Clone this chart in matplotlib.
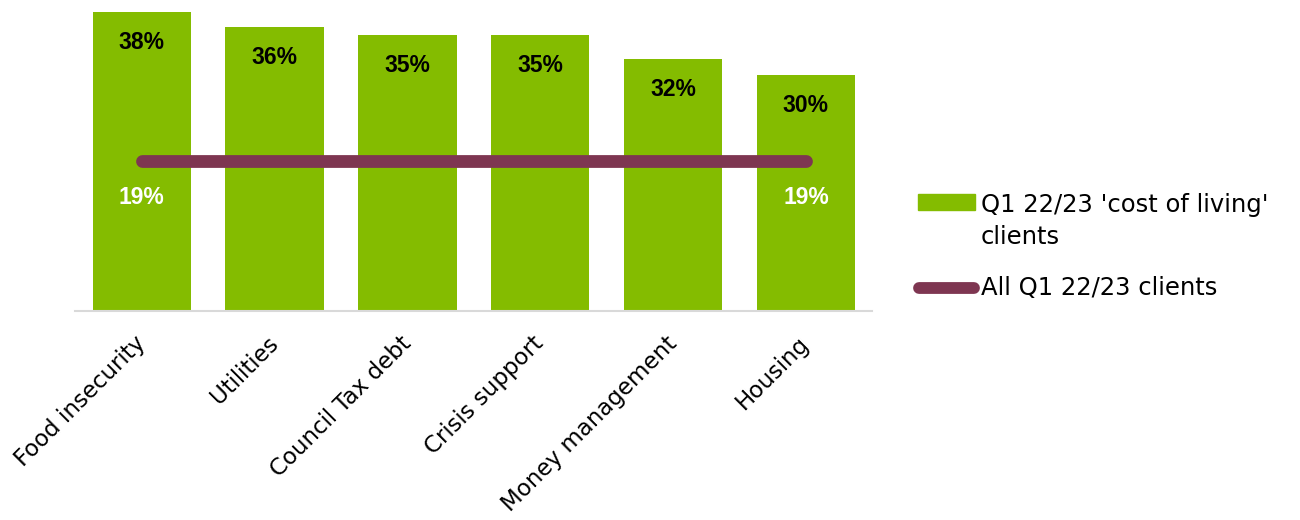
import matplotlib
matplotlib.use("Agg")
from matplotlib import pyplot as plt
from matplotlib import font_manager
from matplotlib.lines import Line2D
from matplotlib.patches import Rectangle

# dados
categorias = ["Food insecurity", "Utilities", "Council Tax debt",
              "Crisis support", "Money management", "Housing"]
custo_vida = [38, 36, 35, 35, 32, 30]
todos_clientes = [19, 19, 19, 19, 19, 19]
rotulo_serie1 = ["Q1 22/23 'cost of living'", "clients"]
rotulo_serie2 = "All Q1 22/23 clients"

verde = "#84BC00"
vinho = "#7E3651"
W, H = 1300, 520

plt.rcParams["font.family"] = ["DejaVu Sans"]

# fonte negrito tipo Arial (evita a versao Narrow)
arq_negrito = None
for f in font_manager.findSystemFonts():
    if f.endswith("LiberationSans-Bold.ttf"):
        arq_negrito = f
        break
if arq_negrito:
    fonte_valor = font_manager.FontProperties(fname=arq_negrito, size=16.5)
else:
    fonte_valor = font_manager.FontProperties(family="DejaVu Sans",
                                              weight="bold", size=15)

fig = plt.figure(figsize=(13, 5.2), dpi=100)
ax = fig.add_axes([0.058, 0.402, 0.613, 0.583])

x = range(len(categorias))
ax.bar(x, custo_vida, width=0.74, color=verde, zorder=2)
ax.plot(x, todos_clientes, color=vinho, linewidth=9.2,
        solid_capstyle="round", zorder=3)

for i, v in enumerate(custo_vida):
    ax.text(i, v - 3.85, f"{v}%", ha="center", va="center",
            fontproperties=fonte_valor, color="black", zorder=4)

for i in (0, len(categorias) - 1):
    v = todos_clientes[i]
    ax.text(i, v - 4.6, f"{v}%", ha="center", va="center",
            fontproperties=fonte_valor, color="white", zorder=4)

ax.set_xlim(-0.5, len(categorias) - 0.5)
ax.set_ylim(0, 38.5)
ax.set_yticks([])
ax.set_xticks(list(x))
ax.set_xticklabels(categorias, rotation=45, ha="right", va="center",
                   rotation_mode="anchor", fontsize=16.5)
ax.tick_params(axis="x", length=0, pad=21)
for lado in ("top", "right", "left"):
    ax.spines[lado].set_visible(False)
ax.spines["bottom"].set_color("#D9D9D9")
ax.spines["bottom"].set_linewidth(1.5)

# legenda desenhada a mao (posicoes em pixels da figura)
fig.add_artist(Rectangle((918 / W, 1 - 210 / H), 57 / W, 16 / H,
                         transform=fig.transFigure, color=verde))
fig.add_artist(Line2D([919 / W, 974 / W], [1 - 288 / H, 1 - 288 / H],
                      transform=fig.transFigure, color=vinho,
                      linewidth=8.5, solid_capstyle="round"))
fig.text(981 / W, 1 - 212 / H, rotulo_serie1[0], fontsize=17.5,
         va="baseline", ha="left")
fig.text(981 / W, 1 - 244 / H, rotulo_serie1[1], fontsize=17.5,
         va="baseline", ha="left")
fig.text(981 / W, 1 - 295 / H, rotulo_serie2, fontsize=17.5,
         va="baseline", ha="left")

fig.savefig("out.png", dpi=100)
